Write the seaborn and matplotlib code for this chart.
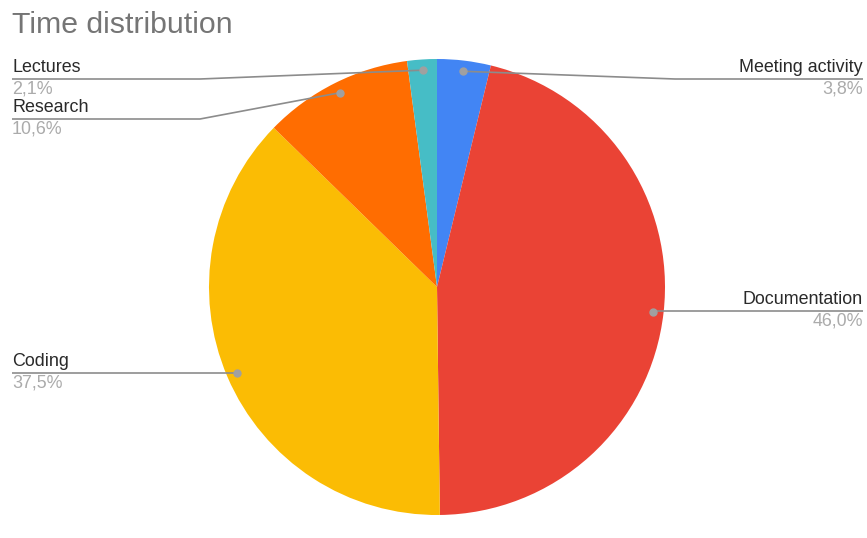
import numpy as np
import matplotlib
matplotlib.use("Agg")
import matplotlib.pyplot as plt
import seaborn as sns

categories = ["Meeting activity", "Documentation", "Coding", "Research", "Lectures"]
values = [3.8, 46.0, 37.5, 10.6, 2.1]
pct_labels = ["3,8%", "46,0%", "37,5%", "10,6%", "2,1%"]
colors = ["#4285F4", "#EA4335", "#FBBC04", "#FF6D01", "#46BDC6"]

sns.set_theme(style="white")
plt.rcParams["font.family"] = ["Liberation Sans", "DejaVu Sans"]

W, H = 867, 538
fig = plt.figure(figsize=(W / 100, H / 100), dpi=100)
ax = fig.add_axes([0, 0, 1, 1])

cx, cy, R = 437, H - 287, 228
ax.pie(values, colors=colors, startangle=90, counterclock=False,
       center=(cx, cy), radius=R, wedgeprops=dict(linewidth=0))
ax.set_xlim(0, W)
ax.set_ylim(0, H)
ax.set_aspect("equal")
ax.axis("off")

# anchors from slice mid-angles
total = sum(values)
cum = np.cumsum([0] + values[:-1])
mids = [(c + v / 2) / total * 360 for c, v in zip(cum, values)]
r_anchor = 0.953 * R
anchors = {}
for cat, m in zip(categories, mids):
    a = np.deg2rad(m)
    anchors[cat] = (cx + r_anchor * np.sin(a), cy + r_anchor * np.cos(a))

# label layout: (label line y in pixels, side, elbow x)
layout = {
    "Lectures": (79, "left", 200),
    "Research": (119, "left", 200),
    "Coding": (373, "left", None),
    "Meeting activity": (79, "right", 675),
    "Documentation": (311, "right", None),
}
line_c = "#8c8c8c"
for cat, pct in zip(categories, pct_labels):
    ly, side, elbow = layout[cat]
    yy = H - ly
    axx, ayy = anchors[cat]
    if side == "left":
        x_end = 12
        if elbow is None:
            xs, ys = [x_end, axx], [yy, yy]
        else:
            xs, ys = [x_end, elbow, axx], [yy, yy, ayy]
        ha, tx = "left", 12
    else:
        x_end = 863
        if elbow is None:
            xs, ys = [axx, x_end], [yy, yy]
        else:
            xs, ys = [axx, elbow, x_end], [ayy, yy, yy]
        ha, tx = "right", 863
    ax.plot(xs, ys, color=line_c, lw=1.2, solid_capstyle="butt", zorder=3)
    ax.plot([axx], [ayy], "o", color="#a0a0a0", ms=5, zorder=4)
    ax.text(tx, yy + 3, cat, ha=ha, va="bottom", fontsize=12.9, color="#2a2a2a")
    ax.text(tx, yy - 2, pct, ha=ha, va="top", fontsize=12.9, color="#ababab")

ax.text(12, H - 33, "Time distribution", ha="left", va="baseline",
        fontsize=21.8, color="#757575")

fig.savefig("out.png", dpi=100)
